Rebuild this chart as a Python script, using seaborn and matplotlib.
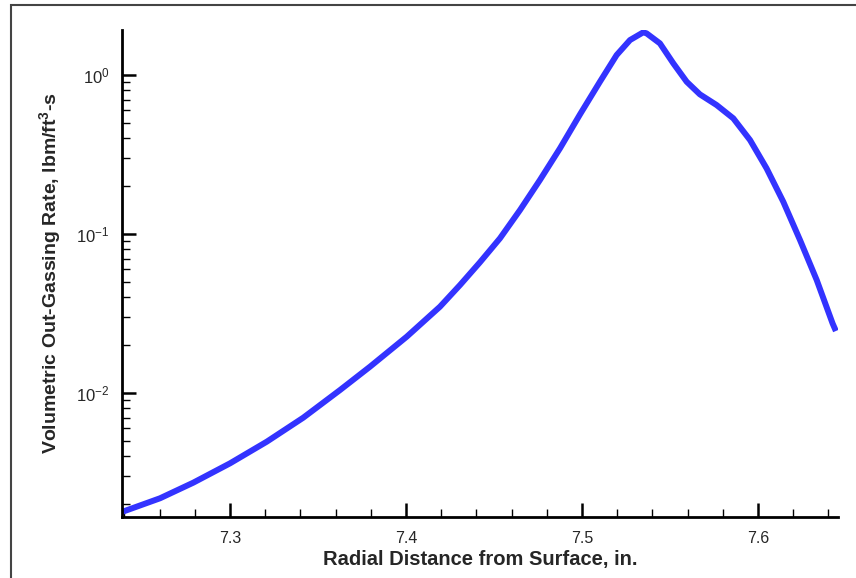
import numpy as np
import pandas as pd
import matplotlib
matplotlib.use("Agg")
import matplotlib.pyplot as plt
from matplotlib.patches import Rectangle
from matplotlib.ticker import LogLocator, MultipleLocator
import seaborn as sns

# Radial position (in.) and volumetric out-gassing rate (lbm/ft^3-s)
radius = [7.2386, 7.2602, 7.2791, 7.3000, 7.3209, 7.3416, 7.3625, 7.3795,
          7.4004, 7.4193, 7.4307, 7.4420, 7.4534, 7.4648, 7.4761, 7.4875,
          7.4989, 7.5102, 7.5197, 7.5273, 7.5348, 7.5367, 7.5443, 7.5519,
          7.5595, 7.5670, 7.5765, 7.5860, 7.5955, 7.6049, 7.6144, 7.6239,
          7.6334, 7.6424, 7.6443]
rate = [0.001786, 0.002177, 0.002729, 0.003612, 0.004943, 0.006994, 0.01044,
        0.01463, 0.02260, 0.03490, 0.04779, 0.06637, 0.09397, 0.1416, 0.2186,
        0.3459, 0.5661, 0.9075, 1.336, 1.660, 1.856, 1.829, 1.582, 1.185,
        0.9075, 0.7561, 0.6477, 0.5341, 0.3902, 0.2589, 0.1596, 0.0917,
        0.05136, 0.02744, 0.02454]

df = pd.DataFrame({"radius": radius, "rate": rate})

sns.set_style("ticks")
plt.rcParams["font.family"] = ["Liberation Sans", "DejaVu Sans"]
plt.rcParams["mathtext.fontset"] = "custom"
plt.rcParams["mathtext.rm"] = "Liberation Sans"
plt.rcParams["mathtext.bf"] = "Liberation Sans:bold"

fig = plt.figure(figsize=(8.56, 5.78), dpi=100)
ax = fig.add_axes([122 / 856, 1 - 517 / 578, (838 - 122) / 856, (517 - 30) / 578])

sns.lineplot(data=df, x="radius", y="rate", ax=ax, color="#3333ff",
             linewidth=4.3, sort=False, solid_joinstyle="round",
             solid_capstyle="butt")

ax.set_yscale("log")
ax.set_xlim(7.2386, 7.6455)
ax.set_ylim(0.00166, 1.92)

ax.xaxis.set_major_locator(MultipleLocator(0.1))
ax.xaxis.set_minor_locator(MultipleLocator(0.02))
ax.yaxis.set_major_locator(LogLocator(base=10, numticks=10))
ax.yaxis.set_minor_locator(LogLocator(base=10, subs=np.arange(2, 10), numticks=10))

for side in ("top", "right"):
    ax.spines[side].set_visible(False)
for side in ("left", "bottom"):
    ax.spines[side].set_linewidth(2)
    ax.spines[side].set_color("black")

ax.tick_params(which="major", direction="in", length=10, width=1.8,
               color="black")
ax.tick_params(which="minor", direction="in", length=5.5, width=1.0,
               color="black")
ax.tick_params(axis="x", which="major", labelsize=11.5, pad=10)
ax.tick_params(axis="y", which="major", labelsize=12, pad=9)

ax.set_xlabel("Radial Distance from Surface, in.", fontsize=14.5,
              fontweight="bold", labelpad=3)
ax.set_ylabel(r"Volumetric Out-Gassing Rate, lbm/ft$^{\mathbf{3}}$-s",
              fontsize=14, fontweight="bold", labelpad=9)

# thin frame around the page
fig.add_artist(Rectangle((11 / 856, -0.05), 1.2, 1 - 5 / 578 + 0.05,
                         transform=fig.transFigure, fill=False,
                         edgecolor="#444444", linewidth=1.5))

fig.savefig("out.png", dpi=100)
